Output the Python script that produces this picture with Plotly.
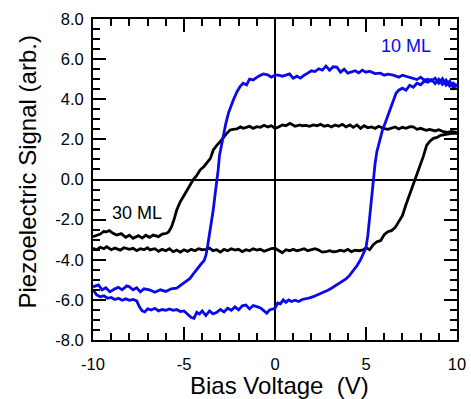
import plotly.graph_objects as go

# ---------------- data ----------------
# 10 ML (blue) loop: up-sweep from -10 to 10, then down-sweep from 10 to -10
blue_up_x = [-10, -9.8, -9.6, -9.4, -9.2, -9.0, -8.8, -8.6, -8.4, -8.2, -8.0, -7.8, -7.6, -7.45, -7.3, -7.15,
             -7.0, -6.8, -6.6, -6.4, -6.2, -6.0, -5.8, -5.6, -5.4, -5.2, -5.0, -4.8, -4.6, -4.45, -4.3, -4.15,
             -4.0, -3.8, -3.6, -3.4, -3.2, -3.0, -2.8, -2.6, -2.4, -2.2, -2.0, -1.8, -1.6, -1.4, -1.2, -1.0,
             -0.8, -0.6, -0.45, -0.3, -0.15, 0.0, 0.15, 0.3, 0.45, 0.6, 0.75, 0.9, 1.1, 1.3, 1.5, 1.7, 1.9,
             2.1, 2.3, 2.5, 2.7, 2.9, 3.1, 3.3, 3.5, 3.7, 3.9, 4.1, 4.3, 4.5, 4.7, 4.85, 5.0, 5.1, 5.2, 5.3,
             5.4, 5.5, 5.6, 5.75, 5.9, 6.05, 6.2, 6.35, 6.5, 6.65, 6.8, 7.0, 7.2, 7.4, 7.6, 7.8, 8.0, 8.2,
             8.4, 8.6, 8.8, 9.0, 9.2, 9.4, 9.6, 9.8, 10.0]
blue_up_y = [-5.5, -5.75, -5.84, -5.80, -5.92, -5.88, -5.98, -5.92, -6.02, -5.95, -6.02, -5.98, -6.05, -6.35,
             -6.55, -6.60, -6.45, -6.50, -6.42, -6.55, -6.48, -6.52, -6.45, -6.52, -6.48, -6.58, -6.55, -6.70,
             -6.88, -6.92, -6.62, -6.70, -6.55, -6.78, -6.55, -6.70, -6.62, -6.48, -6.60, -6.42, -6.52, -6.35,
             -6.50, -6.30, -6.26, -6.45, -6.28, -6.34, -6.40, -6.55, -6.67, -6.50, -6.45, -6.42, -6.15, -6.20,
             -6.00, -6.12, -6.00, -6.08, -6.02, -6.08, -5.98, -5.95, -5.90, -5.84, -5.76, -5.72, -5.60, -5.52,
             -5.42, -5.30, -5.20, -5.08, -4.95, -4.78, -4.55, -4.30, -4.00, -3.70, -3.40, -2.80, -1.90, -1.00,
             0.0, 0.8, 1.4, 2.0, 2.45, 2.8, 3.2, 3.5, 4.0, 4.3, 4.45, 4.55, 4.45, 4.70, 4.60, 4.80, 4.72, 4.90,
             4.85, 4.98, 4.78, 5.00, 4.75, 4.95, 4.65, 4.80, 4.63]
blue_down_x = [10.0, 9.8, 9.6, 9.4, 9.2, 9.0, 8.8, 8.6, 8.4, 8.2, 8.0, 7.8, 7.5, 7.2, 7.0, 6.8, 6.5, 6.2, 6.0,
               5.8, 5.5, 5.2, 5.0, 4.8, 4.6, 4.4, 4.2, 4.0, 3.8, 3.6, 3.4, 3.2, 3.0, 2.8, 2.6, 2.4, 2.2, 2.0,
               1.8, 1.6, 1.4, 1.2, 1.0, 0.8, 0.6, 0.4, 0.2, 0.0, -0.2, -0.4, -0.64, -0.9, -1.2, -1.4, -1.56,
               -1.75, -1.92, -2.1, -2.29, -2.45, -2.56, -2.7, -2.84, -2.95, -3.05, -3.12, -3.2, -3.3, -3.39,
               -3.5, -3.62, -3.7, -3.8, -3.9, -4.05, -4.2, -4.4, -4.67, -4.9, -5.1, -5.4, -5.7, -6.0, -6.3,
               -6.6, -6.9, -7.2, -7.4, -7.6, -7.8, -8.0, -8.15, -8.4, -8.6, -8.8, -9.07, -9.3, -9.5, -9.7,
               -9.85, -10.0]
blue_down_y = [4.75, 4.55, 4.90, 4.70, 5.02, 4.80, 5.05, 4.92, 5.00, 4.95, 5.10, 4.98, 5.05, 5.15, 5.20, 5.10,
               5.20, 5.25, 5.20, 5.30, 5.28, 5.40, 5.35, 5.45, 5.32, 5.42, 5.35, 5.30, 5.50, 5.35, 5.60, 5.62,
               5.45, 5.65, 5.45, 5.52, 5.38, 5.42, 5.30, 5.20, 5.05, 5.15, 5.05, 5.26, 5.20, 5.15, 5.20, 5.20,
               5.10, 5.22, 5.26, 5.15, 4.96, 5.00, 4.72, 4.80, 4.63, 4.35, 3.96, 3.55, 3.30, 2.80, 2.20, 1.70,
               1.20, 0.50, 0.00, -0.80, -1.50, -2.20, -2.90, -3.30, -3.80, -4.05, -4.20, -4.35, -4.60, -4.93,
               -5.10, -5.22, -5.42, -5.45, -5.58, -5.50, -5.62, -5.50, -5.45, -5.60, -5.40, -5.50, -5.35, -5.30,
               -5.50, -5.38, -5.45, -5.60, -5.40, -5.50, -5.25, -5.30, -5.35]

# 30 ML (black) loop
black_up_x = [-10.0, -9.8, -9.6, -9.4, -9.25, -9.0, -8.8, -8.5, -8.3, -8.0, -7.8, -7.6, -7.4, -7.2, -7.0,
              -6.87, -6.6, -6.4, -6.2, -6.0, -5.8, -5.6, -5.4, -5.2, -5.0, -4.8, -4.6, -4.4, -4.2, -4.0, -3.8,
              -3.6, -3.4, -3.2, -3.0, -2.8, -2.6, -2.4, -2.2, -2.0, -1.8, -1.6, -1.4, -1.2, -1.0, -0.8, -0.6,
              -0.4, -0.2, 0.0, 0.2, 0.4, 0.6, 0.8, 1.0, 1.2, 1.4, 1.6, 1.8, 2.0, 2.2, 2.4, 2.6, 2.8, 3.0, 3.2,
              3.4, 3.6, 3.8, 4.0, 4.2, 4.4, 4.6, 4.85, 5.0, 5.2, 5.4, 5.6, 5.8, 6.0, 6.2, 6.4, 6.6, 6.8, 7.0,
              7.2, 7.4, 7.6, 7.8, 8.0, 8.15, 8.33, 8.5, 8.7, 8.9, 9.1, 9.25, 9.5, 9.7, 10.0]
black_up_y = [-3.43, -3.50, -3.38, -3.45, -3.35, -3.50, -3.42, -3.52, -3.40, -3.48, -3.43, -3.55, -3.45,
              -3.50, -3.40, -3.51, -3.45, -3.58, -3.48, -3.55, -3.45, -3.60, -3.52, -3.62, -3.50, -3.58, -3.48,
              -3.55, -3.45, -3.50, -3.48, -3.42, -3.55, -3.50, -3.62, -3.48, -3.55, -3.45, -3.52, -3.48, -3.60,
              -3.50, -3.55, -3.45, -3.52, -3.48, -3.58, -3.50, -3.45, -3.43, -3.55, -3.65, -3.50, -3.55, -3.48,
              -3.55, -3.51, -3.45, -3.55, -3.50, -3.45, -3.52, -3.62, -3.60, -3.55, -3.60, -3.58, -3.52, -3.58,
              -3.48, -3.60, -3.52, -3.55, -3.51, -3.40, -3.50, -3.25, -3.10, -3.05, -2.75, -2.60, -2.55, -2.40,
              -2.10, -1.80, -1.25, -0.75, -0.19, 0.35, 0.85, 1.15, 1.70, 1.90, 2.05, 2.10, 2.20, 2.22, 2.25,
              2.30, 2.30]
black_down_x = [10.0, 9.7, 9.5, 9.25, 9.0, 8.8, 8.5, 8.3, 8.0, 7.8, 7.6, 7.42, 7.2, 7.0, 6.8, 6.6, 6.4, 6.2,
                5.95, 5.7, 5.5, 5.3, 5.1, 4.9, 4.7, 4.5, 4.3, 4.12, 3.9, 3.7, 3.5, 3.3, 3.1, 2.9, 2.7, 2.5,
                2.3, 2.1, 1.9, 1.7, 1.5, 1.37, 1.1, 0.82, 0.6, 0.4, 0.2, 0.0, -0.2, -0.4, -0.6, -0.8, -1.0,
                -1.2, -1.4, -1.6, -1.74, -1.9, -2.1, -2.3, -2.47, -2.65, -2.84, -3.0, -3.2, -3.39, -3.55, -3.75,
                -3.9, -4.12, -4.3, -4.49, -4.7, -4.85, -5.04, -5.2, -5.4, -5.55, -5.68, -5.85, -5.95, -6.2,
                -6.4, -6.69, -6.9, -7.1, -7.3, -7.5, -7.8, -8.0, -8.2, -8.45, -8.7, -8.9, -9.1, -9.3, -9.4,
                -9.6, -9.8, -10.0]
black_down_y = [2.35, 2.40, 2.35, 2.38, 2.48, 2.42, 2.50, 2.45, 2.55, 2.50, 2.62, 2.63, 2.55, 2.60, 2.52, 2.62,
                2.55, 2.50, 2.55, 2.65, 2.55, 2.62, 2.58, 2.68, 2.55, 2.72, 2.60, 2.72, 2.62, 2.75, 2.65, 2.72,
                2.62, 2.70, 2.65, 2.75, 2.68, 2.72, 2.65, 2.70, 2.68, 2.72, 2.65, 2.80, 2.68, 2.72, 2.62, 2.55,
                2.68, 2.62, 2.70, 2.60, 2.63, 2.55, 2.65, 2.58, 2.55, 2.62, 2.52, 2.50, 2.47, 2.30, 2.05, 1.90,
                1.70, 1.47, 1.05, 0.81, 0.65, 0.47, 0.20, 0.00, -0.35, -0.60, -0.86, -1.10, -1.52, -2.00, -2.35,
                -2.62, -2.68, -2.72, -2.85, -2.77, -2.88, -2.78, -2.92, -2.80, -2.93, -2.78, -2.88, -2.70, -2.77,
                -2.68, -2.55, -2.62, -2.58, -2.72, -2.78, -2.85]

x_tickvals = [-10, -5, 0, 5, 10]
x_ticktext = ["-10", "-5", "0", "5", "10"]
y_tickvals = [-8, -6, -4, -2, 0, 2, 4, 6, 8]
y_ticktext = ["-8.0", "-6.0", "-4.0", "-2.0", "0.0", "2.0", "4.0", "6.0", "8.0"]

labels = ["10 ML", "30 ML"]
label_x = [7.2, -7.6]
label_y = [6.65, -1.67]

x_title = "Bias Voltage  (V)"
y_title = "Piezoelectric Signal (arb.)"

BLUE = "#0a0ae8"
FONT = "Liberation Sans, Arial, sans-serif"

fig = go.Figure()
fig.add_trace(go.Scatter(x=black_up_x + black_down_x, y=black_up_y + black_down_y, mode="lines",
                         line=dict(color="black", width=2.8), name=labels[1], showlegend=False))
fig.add_trace(go.Scatter(x=blue_up_x + blue_down_x, y=blue_up_y + blue_down_y, mode="lines",
                         line=dict(color=BLUE, width=2.8), name=labels[0], showlegend=False))

fig.add_annotation(x=label_x[0], y=label_y[0], text=labels[0], showarrow=False,
                   font=dict(color=BLUE, size=18, family=FONT))
fig.add_annotation(x=label_x[1], y=label_y[1], text=labels[1], showarrow=False,
                   font=dict(color="black", size=18, family=FONT))

# axis titles placed as annotations for exact positioning
fig.add_annotation(xref="paper", yref="paper", x=0.512, y=-0.143, text=x_title, showarrow=False,
                   xanchor="center", yanchor="middle",
                   font=dict(color="black", size=24, family=FONT))
fig.add_annotation(xref="paper", yref="paper", x=-0.181, y=0.522, text=y_title, showarrow=False,
                   xanchor="center", yanchor="middle", textangle=-90,
                   font=dict(color="black", size=24, family=FONT))

axis_common = dict(
    showgrid=False, showline=True, linecolor="black", linewidth=2, mirror="ticks",
    ticks="inside", tickcolor="black", tickwidth=1.6, ticklen=13,
    zeroline=True, zerolinecolor="black", zerolinewidth=2,
    tickfont=dict(size=16.5, color="black", family=FONT),
    automargin=False,
)

fig.update_xaxes(range=[-10, 10], tickmode="array", tickvals=x_tickvals, ticktext=x_ticktext,
                 minor=dict(ticks="inside", dtick=1, ticklen=7, tickcolor="black", tickwidth=1.6),
                 ticklabelstandoff=8, **axis_common)
fig.update_yaxes(range=[-8, 8], tickmode="array", tickvals=y_tickvals, ticktext=y_ticktext,
                 minor=dict(ticks="inside", dtick=0.5, ticklen=7, tickcolor="black", tickwidth=1.6),
                 ticklabelstandoff=4, **axis_common)

fig.update_layout(width=471, height=399, margin=dict(l=93, r=14, t=19, b=59),
                  plot_bgcolor="white", paper_bgcolor="white")

# remove the default page margin so the figure sits at the window's top-left corner
fig.write_html("out.html", config={"displayModeBar": False},
               post_script="document.body.style.margin='0px';")
